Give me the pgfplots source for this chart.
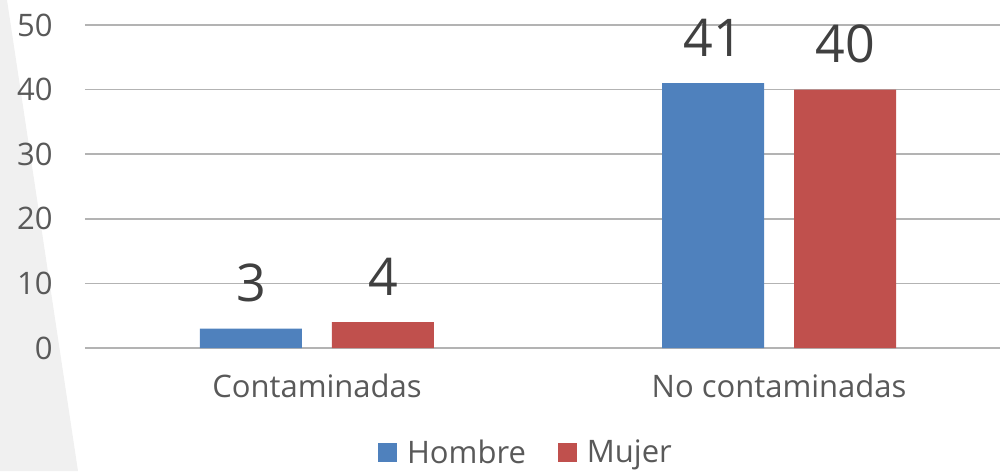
\documentclass[border=0pt]{standalone}
\usepackage{fontspec}
\setmainfont{Open Sans}
\usepackage{pgfplots}
\pgfplotsset{compat=1.18}
\definecolor{hombre}{HTML}{4F81BD}
\definecolor{mujer}{HTML}{C0504D}
\definecolor{gridgray}{HTML}{B3B3B3}
\definecolor{ticktext}{HTML}{595959}
\definecolor{valtext}{HTML}{404040}

\begin{document}
\begin{tikzpicture}
% page size fixed to the reference proportions (0.5pt per pixel)
\useasboundingbox (0,0) rectangle (500pt,235.5pt);
\fill[black!6] (0,0) -- (39pt,0) -- (3.5pt,235.5pt) -- (0,235.5pt) -- cycle;
\begin{axis}[
  scale only axis,
  width=457.5pt, height=161.5pt,
  at={(42.5pt,61.5pt)}, anchor=south west,
  ybar=15pt, bar width=51pt,
  xmin=-0.502, xmax=1.478,
  ymin=0, ymax=50,
  xtick={0,1},
  xticklabels={Contaminadas, No contaminadas},
  ytick={0,10,20,30,40,50},
  axis line style={draw=none},
  major tick length=0pt,
  ymajorgrids,
  grid style={gridgray, line width=0.75pt},
  /pgf/number format/assume math mode=true,
  tick label style={font=\fontsize{15.5}{18}\selectfont, text=ticktext},
  yticklabel style={anchor=east, inner sep=0pt, xshift=-16pt},
  xticklabel style={anchor=north, inner sep=0pt, yshift=-13pt},
  nodes near coords,
  every node near coord/.append style={font=\fontsize{26}{30}\selectfont,
    text=valtext, anchor=south, inner sep=0pt, yshift=13pt},
  legend style={at={(0.483,-0.325)}, anchor=center, draw=none, fill=none,
    legend columns=2, font=\fontsize{15.5}{18}\selectfont, text=ticktext,
    /tikz/every odd column/.append style={column sep=3pt},
    /tikz/every even column/.append style={column sep=14pt}},
  legend image code/.code={\fill[#1] (0pt,-4.5pt) rectangle (9.5pt,5pt);},
]
\addplot[fill=hombre, draw=none] coordinates {(0,3) (1,41)};
\addlegendentry{Hombre}
\addplot[fill=mujer, draw=none] coordinates {(0,4) (1,40)};
\addlegendentry{Mujer}
\end{axis}
\end{tikzpicture}
\end{document}
